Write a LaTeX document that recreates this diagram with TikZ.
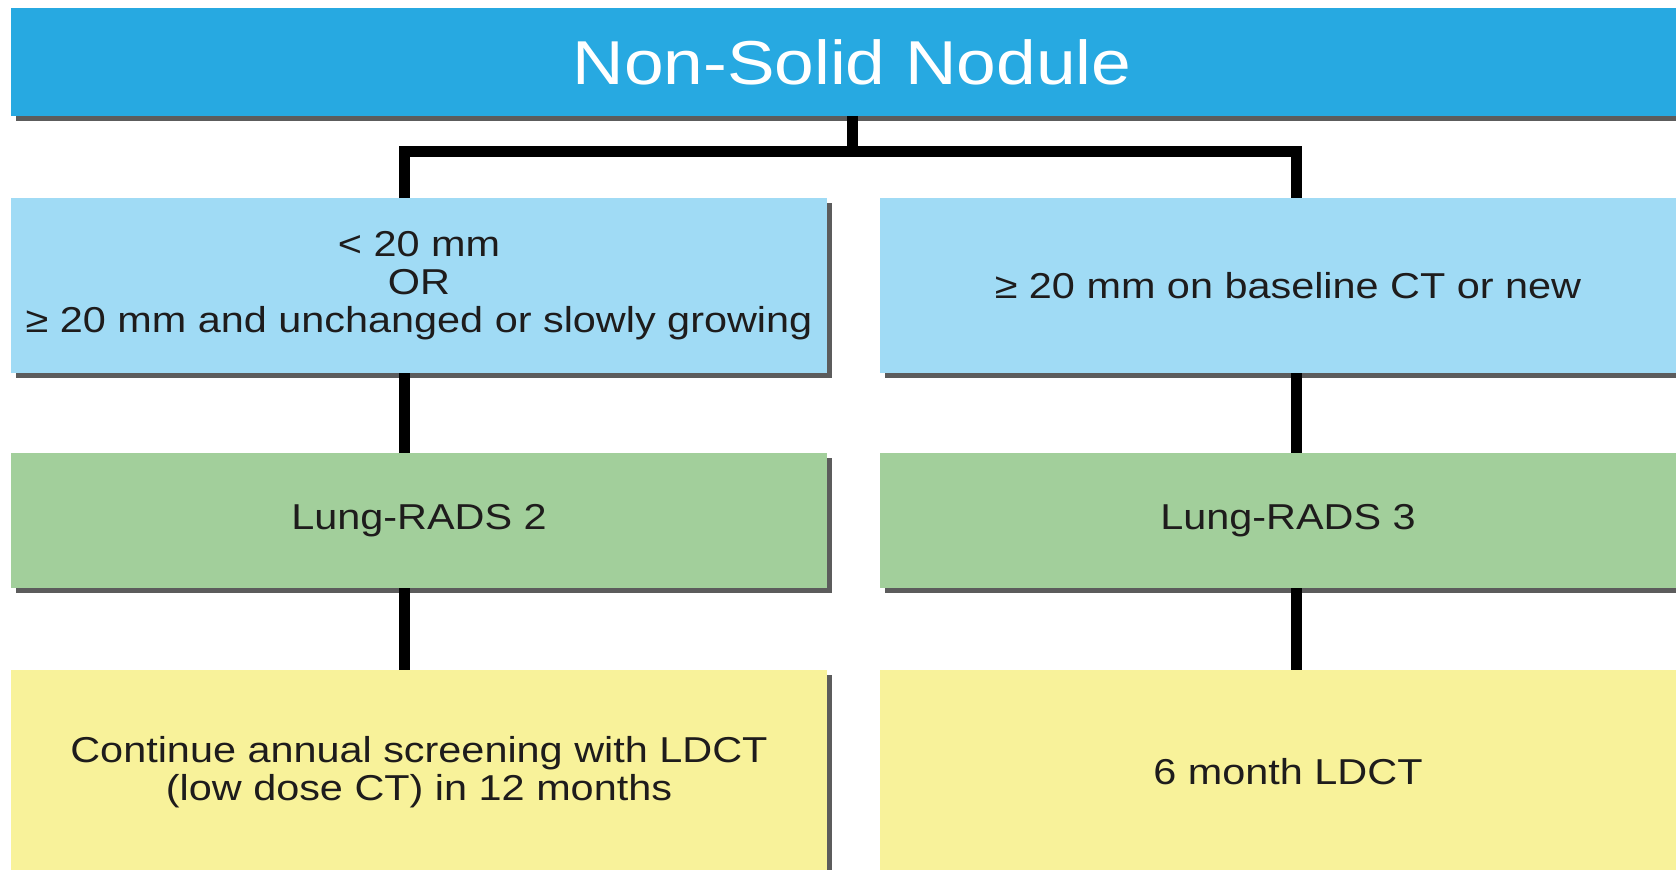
\documentclass[tikz,border=0pt]{standalone}
\usepackage{fontspec}
\setmainfont{Liberation Sans}[FakeStretch=1.15]
\usetikzlibrary{shadows}
\definecolor{headblue}{RGB}{39,169,225}
\definecolor{condblue}{RGB}{160,219,245}
\definecolor{radsgreen}{RGB}{162,207,155}
\definecolor{actyellow}{RGB}{248,242,154}
\definecolor{inkgray}{RGB}{30,28,28}
\begin{document}
\begin{tikzpicture}[x=1pt,y=-1pt,
  box/.style={draw=none,align=center,text=inkgray,minimum width=816pt,
    font=\fontsize{36}{38}\selectfont,
    drop shadow={shadow xshift=5pt,shadow yshift=-5pt,fill=black!75,opacity=0.85}},
  headbox/.style={box,fill=headblue,text=white,minimum width=1683pt,minimum height=108pt,
    font=\fontsize{62}{64}\selectfont},
  condbox/.style={box,fill=condblue,minimum height=175pt},
  radsbox/.style={box,fill=radsgreen,minimum height=135pt},
  actbox/.style={box,fill=actyellow,minimum height=204pt},
  link/.style={draw=black,line width=11pt,line join=miter}]
\useasboundingbox (0,0) rectangle (1676,870);
\clip (0,0) rectangle (1676,870);
\fill[white] (0,0) rectangle (1676,870);

\node[headbox] (head) at (852,62) {Non-Solid Nodule};

\node[condbox] (condL) at (419,285.5) {< 20 mm\\OR\\≥ 20 mm and unchanged or slowly growing};
\node[condbox] (condR) at (1288,285.5) {≥ 20 mm on baseline CT or new};

\node[radsbox] (radsL) at (419,520.5) {Lung-RADS 2};
\node[radsbox] (radsR) at (1288,520.5) {Lung-RADS 3};

\node[actbox] (actL) at (419,772) {Continue annual screening with LDCT\\(low dose CT) in 12 months};
\node[actbox] (actR) at (1288,772) {6 month LDCT};

% fork from the header
\draw[link] (head.south) -- ++(0,41);
\draw[link] ([xshift=-15pt]condL.north) -- ++(0,-46) -| ([xshift=8pt]condR.north);

% columns
\draw[link] ([xshift=-15pt]condL.south) -- ([xshift=-15pt]radsL.north);
\draw[link] ([xshift=-15pt]radsL.south) -- ([xshift=-15pt]actL.north);
\draw[link] ([xshift=8pt]condR.south) -- ([xshift=8pt]radsR.north);
\draw[link] ([xshift=8pt]radsR.south) -- ([xshift=8pt]actR.north);
\end{tikzpicture}
\end{document}
